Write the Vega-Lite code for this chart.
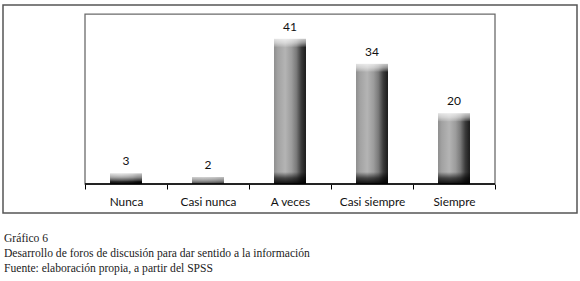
{
  "$schema": "https://vega.github.io/schema/vega-lite/v6.json",
  "width": 574,
  "height": 208,
  "autosize": {"type": "none"},
  "padding": {"left": 3, "top": 5, "right": 3, "bottom": 68},
  "background": "white",
  "config": {
    "view": {"stroke": "#555555", "strokeWidth": 1.5},
    "axis": {
      "domain": false,
      "grid": false,
      "ticks": true,
      "tickBand": "extent",
      "tickColor": "#000000",
      "tickSize": 5,
      "labelFont": "Lato",
      "labelFontSize": 11.8,
      "labelColor": "#111111",
      "labelAngle": 0,
      "labelPadding": 7,
      "title": null
    }
  },
  "title": {
    "text": [
      "Gráfico 6",
      "Desarrollo de foros de discusión para dar sentido a la información",
      "Fuente: elaboración propia, a partir del SPSS"
    ],
    "orient": "bottom",
    "anchor": "start",
    "font": "Liberation Serif",
    "fontSize": 11.6,
    "fontWeight": "normal",
    "color": "#222222",
    "lineHeight": 15,
    "offset": 20,
    "dx": 1
  },
  "data": {
    "values": [
      {"categoria": "Nunca", "valor": 3},
      {"categoria": "Casi nunca", "valor": 2},
      {"categoria": "A veces", "valor": 41},
      {"categoria": "Casi siempre", "valor": 34},
      {"categoria": "Siempre", "valor": 20}
    ]
  },
  "encoding": {
    "x": {
      "field": "categoria",
      "type": "nominal",
      "sort": null,
      "scale": {"domain": ["Nunca", "Casi nunca", "A veces", "Casi siempre", "Siempre"], "paddingInner": 0, "paddingOuter": 1.41},
      "axis": {"orient": "bottom", "offset": -29}
    }
  },
  "layer": [
    {
      "data": {"values": [{"caja": 1}]},
      "mark": {"type": "bar", "width": {"band": 5}, "fillOpacity": 0, "stroke": "#6b6b6b", "strokeWidth": 1.3},
      "encoding": {
        "x": {"datum": "A veces"},
        "y": {"datum": 0, "type": "quantitative", "scale": {"domain": [-8.19, 50.56], "nice": false, "zero": false}, "axis": null},
        "y2": {"datum": 48}
      }
    },
    {
      "mark": {
        "type": "bar",
        "width": {"band": 0.39},
        "fill": {
          "gradient": "linear", "x1": 0, "y1": 0, "x2": 1, "y2": 0,
          "stops": [
            {"offset": 0, "color": "#8e8e8e"},
            {"offset": 0.12, "color": "#a2a2a2"},
            {"offset": 0.35, "color": "#b4b4b4"},
            {"offset": 0.55, "color": "#9c9c9c"},
            {"offset": 0.7, "color": "#7a7a7a"},
            {"offset": 0.85, "color": "#3c3c3c"},
            {"offset": 1, "color": "#1a1a1a"}
          ]
        }
      },
      "encoding": {
        "y": {"field": "valor", "type": "quantitative"},
        "y2": {"datum": 0}
      }
    },
    {
      "mark": {
        "type": "bar",
        "width": {"band": 0.39},
        "y2Offset": -12,
        "fill": {
          "gradient": "linear", "x1": 0, "y1": 0, "x2": 0, "y2": 1,
          "stops": [
            {"offset": 0, "color": "rgba(0,0,0,0)"},
            {"offset": 0.5, "color": "rgba(0,0,0,0.6)"},
            {"offset": 1, "color": "rgba(0,0,0,0.92)"}
          ]
        }
      },
      "encoding": {
        "y": {"datum": 0},
        "y2": {"datum": 0}
      }
    },
    {
      "mark": {"type": "bar", "width": {"band": 0.45}, "y2Offset": -14, "fill": "white"},
      "encoding": {
        "y": {"field": "valor", "type": "quantitative"},
        "y2": {"field": "valor"}
      }
    },
    {
      "mark": {
        "type": "bar",
        "width": {"band": 0.39},
        "y2Offset": 8,
        "fill": {
          "gradient": "linear", "x1": 0, "y1": 0, "x2": 0, "y2": 1,
          "stops": [
            {"offset": 0, "color": "rgba(255,255,255,0.75)"},
            {"offset": 0.5, "color": "rgba(255,255,255,0.5)"},
            {"offset": 1, "color": "rgba(255,255,255,0.1)"}
          ]
        }
      },
      "encoding": {
        "y": {"field": "valor", "type": "quantitative"},
        "y2": {"field": "valor"}
      }
    },
    {
      "mark": {"type": "text", "baseline": "middle", "dy": -12, "font": "Lato", "fontSize": 12, "color": "#111111"},
      "encoding": {
        "y": {"field": "valor", "type": "quantitative"},
        "text": {"field": "valor", "type": "quantitative"}
      }
    },
    {
      "data": {"values": [{"base": 0}]},
      "mark": {"type": "bar", "width": {"band": 5}, "fillOpacity": 0, "stroke": "#000000", "strokeWidth": 1},
      "encoding": {
        "x": {"datum": "A veces"},
        "y": {"datum": 0},
        "y2": {"datum": 0}
      }
    }
  ]
}
